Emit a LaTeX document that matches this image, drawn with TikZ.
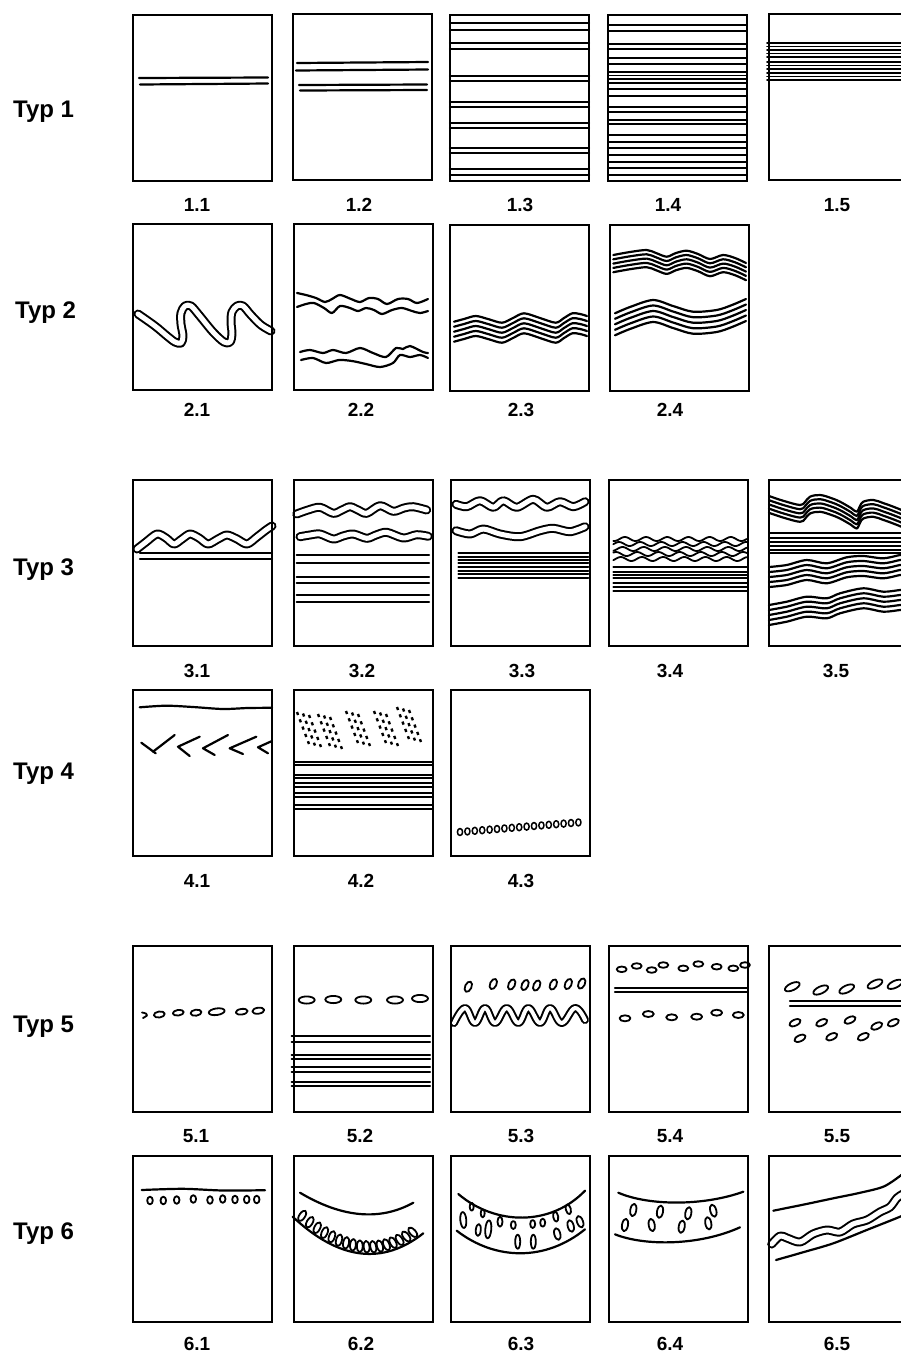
\documentclass[tikz,border=0pt]{standalone}
\usepackage{fontspec}
\setmainfont{Liberation Sans}
\begin{document}
\begin{tikzpicture}[x=1pt,y=-1pt,line cap=round,line join=round,
  boxframe/.style={line width=2.9pt,line cap=butt,line join=miter},
  ln/.style={line width=2.2pt},
  lnthin/.style={line width=1.8pt},
  dbl/.style={line width=2pt,double,double distance=5pt},
  oval/.style={line width=1.8pt},
  dotln/.style={line width=2.4pt,line cap=butt,dash pattern=on 3.2pt off 4.6pt},
  typlab/.style={anchor=base west,inner sep=0pt,font=\fontsize{24}{28}\selectfont\bfseries},
  numlab/.style={anchor=base,inner sep=0pt,font=\fontsize{19}{22}\selectfont\bfseries}]
\useasboundingbox (0,0) rectangle (901,1353);
\fill[white] (0,0) rectangle (901,1353);
\clip (0,0) rectangle (901,1353);

% ---------- labels ----------
\node[typlab] (t1) at (13,117) {Typ 1};
\node[typlab] (t2) at (15,318) {Typ 2};
\node[typlab] (t3) at (13,575) {Typ 3};
\node[typlab] (t4) at (13,779) {Typ 4};
\node[typlab] (t5) at (13,1032) {Typ 5};
\node[typlab] (t6) at (13,1239) {Typ 6};
\foreach \cx/\ly/\txt/\nm in {197/211/1.1/n11,359/211/1.2/n12,520/211/1.3/n13,668/211/1.4/n14,837/211/1.5/n15,
  197/416/2.1/n21,361/416/2.2/n22,521/416/2.3/n23,670/416/2.4/n24,
  197/677/3.1/n31,362/677/3.2/n32,522/677/3.3/n33,670/677/3.4/n34,836/677/3.5/n35,
  197/887/4.1/n41,361/887/4.2/n42,521/887/4.3/n43,
  196/1142/5.1/n51,360/1142/5.2/n52,521/1142/5.3/n53,670/1142/5.4/n54,837/1142/5.5/n55,
  197/1350/6.1/n61,361/1350/6.2/n62,521/1350/6.3/n63,670/1350/6.4/n64,837/1350/6.5/n65}
  \node[numlab] (\nm) at (\cx,\ly) {\txt};

% ---------- 1.1 ----------
\begin{scope}[shift={(133,15)}]
\draw[ln] (6,63)--(135,62.5);
\draw[ln] (7,69.5)--(135,68.5);
\end{scope}
% ---------- 1.2 ----------
\begin{scope}[shift={(293,14)}]
\draw[ln] (4,49)--(135,48);
\draw[ln] (3,56.5)--(135,55.5);
\draw[ln] (6,71)--(134,70.5);
\draw[ln] (7,76.5)--(134,76);
\end{scope}
% ---------- 1.3 ----------
\begin{scope}[shift={(450,15)}]
\foreach \yy in {8,15,28,34,61,66,87,92,108,113,133,138,154,160} \draw[ln] (0,\yy)--(139,\yy);
\end{scope}
% ---------- 1.4 ----------
\begin{scope}[shift={(608,15)}]
\foreach \yy in {10,15.7,29.3,34.3,43.3,49,56.7,60.5,64.3,68.3,74.3,81,91.7,96.7,105,109.3,120,126.7,133.3,140,146.7,153.3,160} \draw[lnthin] (0,\yy)--(139,\yy);
\end{scope}
% ---------- 1.5 ----------
\begin{scope}[shift={(769,14)}]
\foreach \yy in {29,32.5,36,39.5,43,48,51.5,55,59,62.5,66} \draw[lnthin] (-2,\yy)--(139,\yy);
\end{scope}

% ---------- 2.1 ----------
\begin{scope}[shift={(133,224)}]
\draw[dbl] plot[smooth,tension=0.55] coordinates {(5,90) (22,102) (34,112) (42,118) (48,119) (50,112) (48,100) (48,89) (52,82) (58,82) (66,91) (80,108) (91,118) (97,118) (99,110) (98,98) (99,88) (104,82) (110,82) (118,91) (128,101) (138,107)};
\end{scope}
% ---------- 2.2 ----------
\begin{scope}[shift={(294,224)}]
\draw[ln] plot[smooth] coordinates {(3,69) (12,71) (22,74) (31,78) (38,75) (46,71) (57,75) (66,78) (75,74) (84,75) (93,80) (104,75) (114,75) (123,79) (134,75)};
\draw[ln] plot[smooth] coordinates {(3,83) (12,80) (20,79) (30,84) (38,89) (46,82) (56,84) (64,87) (72,84) (80,86) (88,90) (98,86) (108,84) (118,87) (126,89) (134,87)};
\draw[ln] plot[smooth] coordinates {(6,128) (16,126) (29,129) (39,126) (52,129) (66,124) (79,129) (92,133) (102,124) (109,125) (116,122) (129,128) (134,129)};
\draw[ln] plot[smooth] coordinates {(7,136) (19,134) (32,139) (45,136) (58,137) (72,140) (86,143) (99,139) (106,131) (116,133) (126,131) (134,134)};
\end{scope}
% ---------- 2.3 ----------
\begin{scope}[shift={(450,225)}]
\foreach \dd in {0,5,10,15,20} \draw[ln,shift={(0,\dd)}] plot[smooth] coordinates {(4,96.7) (14,94) (25.7,91) (38,94) (52,97.7) (63,93) (74,88.3) (90,93) (105.7,97.7) (114,93) (122.3,88.3) (130,89) (137,91)};
\end{scope}
% ---------- 2.4 ----------
\begin{scope}[shift={(610,225)}]
\foreach \dd in {0,4.3,8.6,12.9,17.2} \draw[ln,shift={(0,\dd)}] plot[smooth] coordinates {(3.3,30) (20,27) (36.7,25) (46,28) (56.7,31.7) (66,28) (76.7,25.7) (88,29) (100,34) (113,30) (125,33) (136,38)};
\foreach \dd in {0,5.5,11,16.5,22} \draw[ln,shift={(0,\dd)}] plot[smooth] coordinates {(5,88.3) (20,82) (43,75) (63,81) (83,86.7) (106.7,85) (122,80) (136,74)};
\end{scope}

% ---------- 3.1 ----------
\begin{scope}[shift={(133,480)}]
\draw[dbl] plot[smooth] coordinates {(4,69) (13,62) (24,54) (33,58) (41,64) (49,59) (57,54) (66,58) (75,64) (85,59) (94,55) (104,59) (114,64) (124,57) (133,50) (139,46)};
\draw[ln] (7,73.3)--(139,73.3);
\draw[ln] (7,79.3)--(139,79.3);
\end{scope}
% ---------- 3.2 ----------
\begin{scope}[shift={(294,480)}]
\draw[dbl] plot[smooth] coordinates {(2.7,34) (14,30) (26,27.3) (39.3,33.3) (48,30) (56,26.7) (64,30) (72.7,33.3) (86,25.7) (99.3,31.3) (110,28) (119.3,26.7) (132.7,30)};
\draw[dbl] plot[smooth] coordinates {(6,56.7) (16,55) (26,54) (39.3,59) (49,56) (59.3,54) (72.7,58.3) (82,55) (92.7,52.3) (109.3,58) (122.7,54.7) (134.3,56.3)};
\foreach \yy in {75,83.3,96.7,102.7,115,121.7} \draw[ln] (2.7,\yy)--(135,\yy);
\end{scope}
% ---------- 3.3 ----------
\begin{scope}[shift={(451,480)}]
\draw[dbl] plot[smooth] coordinates {(5,24.3) (15.7,26.7) (29,20.7) (42.3,27.3) (52.3,20.7) (65.7,27.3) (82.3,19.3) (95.7,27.3) (109,21.7) (122.3,26.7) (134,21.7)};
\draw[dbl] plot[smooth] coordinates {(5,50.7) (19,54) (32.3,49) (49,54) (69,56.7) (89,50.7) (102.3,48.3) (119,51.7) (134,46.7)};
\foreach \yy in {73.3,76.7,80,83.3,86.7,90.7,94.3,98.3} \draw[lnthin] (7.3,\yy)--(137.3,\yy);
\end{scope}
% ---------- 3.4 ----------
\begin{scope}[shift={(609,480)}]
\foreach \bb/\pp in {59/0,64/100,69/40,74/150,79/70} \draw[lnthin] plot[domain=4.3:137.7,samples=90,smooth] (\x,{\bb+2*sin(17*\x+\pp)});
\foreach \yy in {86.7,91.7,95,98.3,102.7,106.7,110.7} \draw[lnthin] (4.3,\yy)--(137.7,\yy);
\end{scope}
% ---------- 3.5 ----------
\begin{scope}[shift={(769,480)}]
\foreach \dd in {0,4.2,8.4,12.6,16.8} \draw[ln,shift={(0,\dd)}] plot[smooth,tension=0.6] coordinates {(0,16) (15,21) (31,25) (36,22) (41,16.7) (51,15) (62,18) (71,21.7) (82,28) (87.7,31.7) (91,26) (94.3,21.7) (104.3,20) (114,23) (124.3,26.7) (140,33)};
\foreach \yy in {53.3,58.3,61.7,66,70,73.3} \draw[lnthin] (0,\yy)--(139,\yy);
\foreach \dd in {0,5,10,15,20} \draw[ln,shift={(0,\dd)}] plot[smooth] coordinates {(0,87) (17.7,85) (37.7,80) (57.7,83.3) (77.7,77.3) (94.3,76) (114.3,78.3) (131,75) (140,74)};
\foreach \dd in {0,5,10,15,20} \draw[ln,shift={(0,\dd)}] plot[smooth] coordinates {(0,125) (17.7,121.7) (37.7,116.7) (57.7,118.3) (71,113.3) (94.3,108.3) (114.3,111.7) (131,110) (140,109)};
\end{scope}

% ---------- 4.1 ----------
\begin{scope}[shift={(133,690)}]
\draw[ln] plot[smooth] coordinates {(6.7,17.3) (33,15.7) (60,17) (90,19) (115,18) (139,17.8)};
\draw[ln] (8.3,52.7)--(22.7,63.3);
\draw[ln] (20,61.7)--(41.7,45);
\draw[ln] (56.7,66)--(45,56.7)--(66.7,46.7);
\draw[ln] (81.7,65)--(70,58.3)--(95,45);
\draw[ln] (110,64)--(96.7,58.3)--(123.3,46.7);
\draw[ln] (135,63.3)--(125,57.3)--(139,51);
\end{scope}
% ---------- 4.2 ----------
\begin{scope}[shift={(294,690)}]
\foreach \gx/\gy in {3/22,24/24,52/21,80/21,103/17} \foreach \kk in {0,1,2} \draw[dotln] ({\gx+6*\kk},{\gy+1.5*\kk})--({\gx+6*\kk+12},{\gy+32+1.5*\kk});
\foreach \yy in {71.7,75,85,88.3,93.3,96.7,102.7,106.7,115,119.3} \draw[lnthin] (0,\yy)--(139,\yy);
\end{scope}
% ---------- 4.3 ----------
\begin{scope}[shift={(451,690)}]
\foreach \ii in {0,...,16} \draw[oval,line width=1.5pt] ({9+7.4*\ii},{142-0.6*\ii}) ellipse [x radius=2.6, y radius=3.5];
\end{scope}

% ---------- 5.1 ----------
\begin{scope}[shift={(133,946)}]
\draw[oval] plot[smooth] coordinates {(9,66.5) (13,67.5) (14,69.5) (10,72)};
\foreach \ox/\oy/\rx/\ry in {26.3/68.5/5.5/3, 45.3/66.7/5.5/2.8, 63/66.7/5.5/3, 83.7/65.7/8/3.3, 108.7/65.7/6/2.8, 125.3/64.7/6/3} \draw[oval,rotate around={8:(\ox,\oy)}] (\ox,\oy) ellipse [x radius=\rx, y radius=\ry];
\end{scope}
% ---------- 5.2 ----------
\begin{scope}[shift={(294,946)}]
\foreach \ox/\oy in {12.7/54, 39.3/53.5, 69.3/54, 101/54, 126/52.5} \draw[oval] (\ox,\oy) ellipse [x radius=8, y radius=3.6];
\foreach \yy in {90,95.7,109,113.3,121.3,125.7,135.7,140} \draw[ln] (-2.3,\yy)--(136,\yy);
\end{scope}
% ---------- 5.3 ----------
\begin{scope}[shift={(451,946)}]
\foreach \ox/\oy in {17.3/40.7, 42.3/38, 60.7/38.5, 74/39, 85.7/39.5, 102.3/38.5, 117.3/38, 130.7/37.5} \draw[oval,rotate around={-25:(\ox,\oy)}] (\ox,\oy) ellipse [x radius=3.2, y radius=5.5];
\draw[dbl,double distance=4pt] plot[smooth,tension=0.7] coordinates {(3,77) (14,62) (24,77) (34,62) (44,77) (55.7,62) (67.3,77) (77.3,62) (89,77) (99,62) (110.7,77) (124,62) (134,74)};
\end{scope}
% ---------- 5.4 ----------
\begin{scope}[shift={(609,946)}]
\foreach \ox/\oy in {12.7/23.3, 27.7/20, 42.7/24, 54.3/19, 74.3/22.3, 89.3/18, 107.7/20.7, 124.3/22.3, 136/19} \draw[oval] (\ox,\oy) ellipse [x radius=5, y radius=2.8];
\draw[ln] (6,41.7)--(137.7,41.7);
\draw[ln] (6,45.7)--(137.7,45.7);
\foreach \ox/\oy in {16/72.3, 39.3/68, 62.7/71.3, 87.7/70.7, 107.7/66.7, 129.3/69} \draw[oval] (\ox,\oy) ellipse [x radius=5.5, y radius=3];
\end{scope}
% ---------- 5.5 ----------
\begin{scope}[shift={(769,946)}]
\foreach \ox/\oy in {23.3/40.7, 51.7/44, 77.7/43, 106/38, 126/38.3} \draw[oval,rotate around={25:(\ox,\oy)}] (\ox,\oy) ellipse [x radius=8, y radius=3.5];
\draw[ln] (21,55)--(140,55);
\draw[ln] (21,60)--(140,60);
\foreach \ox/\oy in {26/76.7, 52.7/76.7, 81/74, 107.7/80, 124.3/76.7, 31/92.3, 62.7/90.7, 94.3/90.7} \draw[oval,rotate around={25:(\ox,\oy)}] (\ox,\oy) ellipse [x radius=6, y radius=3];
\end{scope}

% ---------- 6.1 ----------
\begin{scope}[shift={(133,1156)}]
\draw[ln] plot[smooth] coordinates {(8.7,34) (50,32.8) (90,34.5) (132,34.2)};
\foreach \ox/\oy in {17/44.5, 30.3/44.5, 43.7/44, 60.3/43, 77/44, 89.7/43, 102/43.5, 113.7/43.5, 123.7/43.5} \draw[oval] (\ox,\oy) ellipse [x radius=2.8, y radius=3.8];
\end{scope}
% ---------- 6.2 ----------
\begin{scope}[shift={(294,1156)}]
\draw[ln] (6,36.7) .. controls (48.2,61.8) and (86,65.1) .. (119.3,46.7);
\draw[ln] (-1.3,60.7) .. controls (44.9,104) and (88.4,109.5) .. (129.3,77.3);
\foreach \tp in {0.035,0.092,...,0.97} {
  \pgfmathsetmacro\obx{(1-\tp)^2*(-1.3)+2*\tp*(1-\tp)*68+\tp*\tp*129.3}
  \pgfmathsetmacro\oby{(1-\tp)^2*60.7+2*\tp*(1-\tp)*125.6+\tp*\tp*77.3}
  \pgfmathsetmacro\otx{(1-\tp)*1.386+\tp*1.226}
  \pgfmathsetmacro\oty{(1-\tp)*1.298-\tp*0.966}
  \pgfmathsetmacro\otl{sqrt(\otx*\otx+\oty*\oty)}
  \pgfmathsetmacro\ocx{\obx+7*\oty/\otl}
  \pgfmathsetmacro\ocy{\oby-7*\otx/\otl}
  \pgfmathsetmacro\oang{atan2(-\oty,\otx)+8}
  \draw[oval,rotate around={\oang:(\ocx,\ocy)}] (\ocx,\ocy) ellipse [x radius=2.9, y radius=6];
}
\end{scope}
% ---------- 6.3 ----------
\begin{scope}[shift={(451,1156)}]
\draw[ln] (7.3,38) .. controls (45,70) and (100,70) .. (134,34.7);
\draw[ln] (5.7,74.7) .. controls (45,105) and (95,105) .. (134,73.3);
\foreach \ox/\oy/\rx/\ry/\ra in {20.7/50.7/2/4/0, 12.3/64/3/8/5, 27.3/74/2.5/6/-5, 37.3/73.3/3/9/-5, 31.7/57.3/2/4/0, 49/65.7/2.5/5/0, 62.3/69/2.5/4/0, 66.7/85.7/2.5/7/0, 82.3/85.7/2.5/7/0, 81.7/68/2.5/4/0, 91.7/66.7/2.5/4/0, 104.7/60.7/2.5/5/10, 106.3/78/3/6/15, 117.3/53.3/2.5/5/15, 119.7/70/3/6/15, 129/65.7/3/6/20} \draw[oval,rotate around={\ra:(\ox,\oy)}] (\ox,\oy) ellipse [x radius=\rx, y radius=\ry];
\end{scope}
% ---------- 6.4 ----------
\begin{scope}[shift={(609,1156)}]
\draw[ln] (9.3,36.7) .. controls (40,50) and (95,50) .. (134.3,35.7);
\draw[ln] (6,78.3) .. controls (35,90) and (90,90) .. (131,71.3);
\foreach \ox/\oy/\ra in {24.3/54/-10, 16/69/-10, 42.7/69/10, 51/55.7/-10, 72.7/70.7/-10, 79.3/57.3/-10, 99.3/67.3/10, 104.3/54.7/15} \draw[oval,rotate around={\ra:(\ox,\oy)}] (\ox,\oy) ellipse [x radius=3, y radius=6.3];
\end{scope}
% ---------- 6.5 ----------
\begin{scope}[shift={(769,1156)}]
\draw[ln] plot[smooth] coordinates {(4.3,54.7) (35,48.5) (64.3,42.3) (90,37) (114.3,30.7) (131,20) (140,12)};
\draw[dbl] plot[smooth] coordinates {(2.7,88) (11,80) (18,82) (31,86) (44,78) (58,74) (71,76) (84,68) (98,64) (111,56) (121,51) (128,42) (134,38) (140,35)};
\draw[ln] plot[smooth] coordinates {(7,104) (35,96) (64.3,87.3) (97.7,74) (131,60.7) (140,56)};
\end{scope}

% ---------- frames ----------
\foreach \bx/\by in {133/15,293/14,450/15,608/15,769/14,
  133/224,294/224,450/225,610/225,
  133/480,294/480,451/480,609/480,769/480,
  133/690,294/690,451/690,
  133/946,294/946,451/946,609/946,769/946,
  133/1156,294/1156,451/1156,609/1156,769/1156}
  \draw[boxframe] (\bx,\by) rectangle ++(139,166);
\end{tikzpicture}
\end{document}
